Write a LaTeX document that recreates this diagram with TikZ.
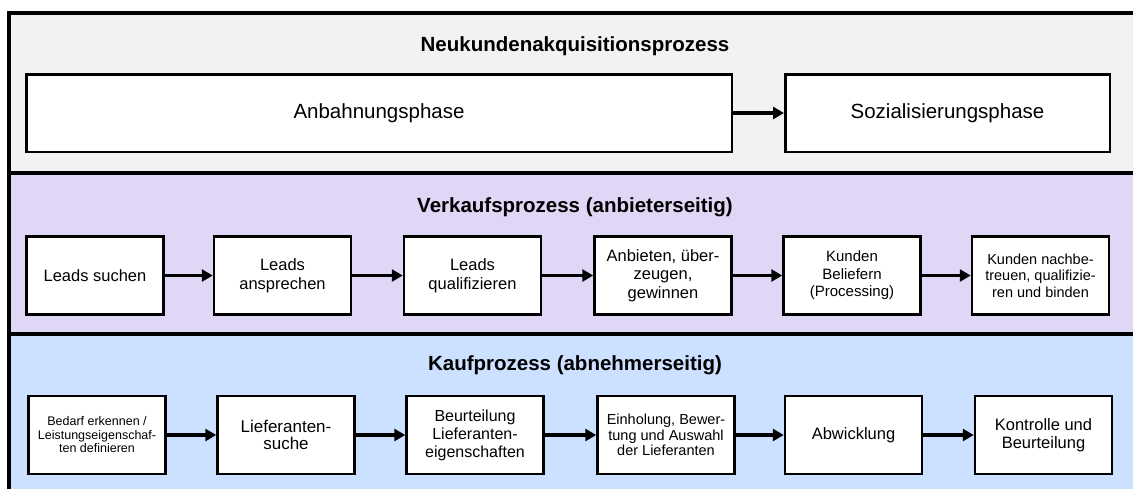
\documentclass[tikz,border=0pt]{standalone}
\usepackage{fontspec}
\setmainfont{Liberation Sans}
\usetikzlibrary{arrows.meta}

\definecolor{bandgray}{HTML}{F2F2F2}
\definecolor{bandviolet}{HTML}{E0D6F5}
\definecolor{bandblue}{HTML}{CCE0FF}

\tikzset{
  frameline/.style={line width=4pt, line cap=rect},
  bandtitle/.style={anchor=base, font=\fontsize{20.5}{24}\selectfont\bfseries},
  phasebox/.style={draw, line width=2.5pt, fill=white, minimum height=77.5pt,
    inner sep=0pt, font=\fontsize{20.5}{24}\selectfont},
  stepbox/.style={draw, line width=2.5pt, fill=white, minimum width=137pt,
    minimum height=78pt, inner sep=0pt, align=center,
    font=\fontsize{16.5}{18.5}\selectfont},
  smalltext/.style={font=\fontsize{14.5}{16.5}\selectfont},
  tinytext/.style={font=\fontsize{12.5}{13.5}\selectfont},
  flow/.style={line width=3.5pt, -{Triangle[length=11pt,width=12pt]}},
}

\begin{document}
\begin{tikzpicture}[x=1pt,y=-1pt]
  \useasboundingbox (0,0) rectangle (1133,488);

  % background bands
  \fill[bandgray]   (9,13)  rectangle (1140,172.5);
  \fill[bandviolet] (9,172.5) rectangle (1140,333.5);
  \fill[bandblue]   (9,333.5) rectangle (1140,495);

  % outer frame (open at right and bottom) and band separators
  \draw[frameline] (9,495) -- (9,13) -- (1140,13);
  \draw[frameline] (9,172.5) -- (1140,172.5);
  \draw[frameline] (9,333.5) -- (1140,333.5);

  % band titles
  \node[bandtitle] (t1) at (575,51.7) {Neukundenakquisitionsprozess};
  \node[bandtitle] (t2) at (575,212) {Verkaufsprozess (anbieterseitig)};
  \node[bandtitle] (t3) at (575,370) {Kaufprozess (abnehmerseitig)};

  % acquisition phases
  \node[phasebox, minimum width=705.5pt] (anb) at (379,113) {Anbahnungsphase};
  \node[phasebox, minimum width=324.5pt] (soz) at (947.5,113) {Sozialisierungsphase};
  \draw[flow] (anb) -- (soz);

  % sales process
  \node[stepbox] (v1) at (95,275.5)    {Leads suchen};
  \node[stepbox] (v2) at (282.5,275.5) {Leads\\ansprechen};
  \node[stepbox] (v3) at (472.5,275.5) {Leads\\qualifizieren};
  \node[stepbox] (v4) at (663,275.5)   {Anbieten, über-\\zeugen,\\gewinnen};
  \node[stepbox, font=\fontsize{15}{17.5}\selectfont] (v5) at (852,275.5)
    {Kunden\\Beliefern\\(Processing)};
  \node[stepbox, smalltext] (v6) at (1040.5,275.5)
    {Kunden nachbe-\\treuen, qualifizie-\\ren und binden};
  \foreach \a/\b in {v1/v2, v2/v3, v3/v4, v4/v5, v5/v6}
    \draw[flow] (\a) -- (\b);

  % purchasing process
  \node[stepbox, tinytext] (k1) at (97,435)
    {Bedarf erkennen /\\Leistungseigenschaf-\\ten definieren};
  \node[stepbox, font=\fontsize{17}{17.5}\selectfont] (k2) at (286,435)
    {Lieferanten-\\suche};
  \node[stepbox, font=\fontsize{16}{18}\selectfont] (k3) at (475,435)
    {Beurteilung\\Lieferanten-\\eigenschaften};
  \node[stepbox, smalltext, font=\fontsize{14.5}{15.5}\selectfont] (k4) at (666,435)
    {Einholung, Bewer-\\tung und Auswahl\\der Lieferanten};
  \node[stepbox] (k5) at (853.5,435) {Abwicklung};
  \node[stepbox] (k6) at (1043.5,435) {Kontrolle und\\Beurteilung};
  \foreach \a/\b in {k1/k2, k2/k3, k3/k4, k4/k5, k5/k6}
    \draw[flow] (\a) -- (\b);
\end{tikzpicture}
\end{document}
